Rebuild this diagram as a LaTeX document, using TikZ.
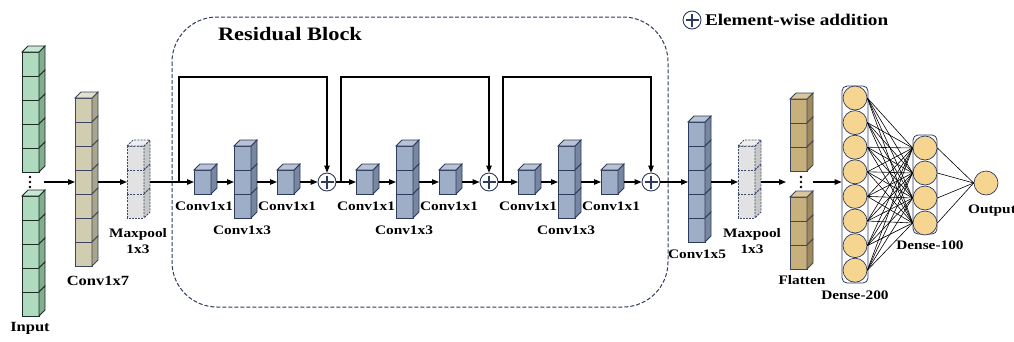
\documentclass[tikz,border=0pt]{standalone}
\usepackage{fontspec}
\newfontfamily\lbl[FakeStretch=1.18]{Liberation Serif}
\usetikzlibrary{arrows.meta,positioning}

\definecolor{navy}{HTML}{2E3B5C}
\definecolor{grF}{HTML}{AEDBBE}\definecolor{grT}{HTML}{C6E7D2}\definecolor{grS}{HTML}{80AE8F}\definecolor{grL}{HTML}{1F2B25}
\definecolor{tnF}{HTML}{D1CDB1}\definecolor{tnT}{HTML}{E3E0CC}\definecolor{tnS}{HTML}{A9A68A}\definecolor{tnL}{HTML}{3C4664}
\definecolor{blF}{HTML}{9EAEC6}\definecolor{blT}{HTML}{B8C4D6}\definecolor{blS}{HTML}{7787A1}\definecolor{blL}{HTML}{2E3A5C}
\definecolor{gyF}{HTML}{E2E2E2}\definecolor{gyT}{HTML}{EEEEEE}\definecolor{gyS}{HTML}{C8C8C8}\definecolor{gyL}{HTML}{3C4A6A}
\definecolor{brF}{HTML}{C8B07C}\definecolor{brT}{HTML}{DAC69A}\definecolor{brS}{HTML}{A18A5A}\definecolor{brL}{HTML}{3C4664}
\definecolor{nrF}{HTML}{F6D590}

% stack of cubes: name, x, y-centre, cells, colour set
\newcommand{\cubes}[5]{%
  \pgfmathsetmacro\ctop{#3-#4*12}
  \foreach \k in {1,...,#4}{
    \pgfmathsetmacro\cy{\ctop+(\k-1)*24}
    \draw[#5,fill=#5F] (#2,\cy) rectangle ++(17,24);
    \draw[#5,fill=#5S] (#2+17,\cy) -- ++(6,-6) -- ++(0,24) -- ++(-6,6) -- cycle;
  }
  \draw[#5,fill=#5T] (#2,\ctop) -- ++(6,-6) -- ++(17,0) -- ++(-6,6) -- cycle;
  \coordinate (#1-in) at (#2,#3);
  \coordinate (#1-out) at (#2+23,#3);
}

\tikzset{
  gr/.style={draw=grL,line width=0.8pt},
  tn/.style={draw=tnL,line width=0.8pt},
  bl/.style={draw=blL,line width=0.8pt},
  br/.style={draw=brL,line width=0.8pt},
  gy/.style={draw=gyL,line width=0.8pt,dash pattern=on 2pt off 1.2pt},
  lab/.style={font=\lbl\bfseries\fontsize{13}{16.5}\selectfont,align=center,inner sep=0},
  add/.style={circle,draw=navy,line width=0.9pt,fill=white,minimum size=18pt,inner sep=0,
    path picture={
      \draw[line width=1.5pt] ([yshift=-2.5pt]path picture bounding box.north) -- ([yshift=2.5pt]path picture bounding box.south);
      \draw[line width=1.5pt] ([xshift=2.5pt]path picture bounding box.west) -- ([xshift=-2.5pt]path picture bounding box.east);}},
  neuron/.style={circle,draw=navy,line width=0.7pt,fill=nrF,minimum size=24pt,inner sep=0},
  layer/.style={draw=navy,line width=0.8pt,rounded corners=5pt,fill=white},
  wire/.style={line width=0.6pt},
}

\begin{document}
\begin{tikzpicture}[x=1pt,y=-1pt,>={Triangle[length=7pt,width=5.5pt]},line width=1.1pt]
\useasboundingbox (0,0) rectangle (1014,341);

% residual block frame
\draw[navy,line width=1pt,dash pattern=on 4pt off 2pt,rounded corners=45pt] (172,17) rectangle (668,307);
\node[lab,font=\lbl\bfseries\fontsize{19}{21}\selectfont] (rbt) at (290,34) {Residual Block};

% legend
\node[add] (leg) at (692,20) {};
\node[lab,font=\lbl\bfseries\fontsize{16.3}{18}\selectfont,right=3pt of leg] (legt) {Element-wise addition};

% input
\cubes{inA}{22}{112}{5}{gr}
\cubes{inB}{22}{256}{5}{gr}
\foreach \t in {177,182,187} \fill (30,\t) circle (1.3);
\coordinate (in-out) at (44,182);
\node[lab,font=\lbl\bfseries\fontsize{14}{16}\selectfont] (inl) at (30,328) {Input};

% conv + pool
\cubes{c7}{75}{182}{7}{tn}
\node[lab,font=\lbl\bfseries\fontsize{14}{16}\selectfont] (c7l) at (98,281) {Conv1x7};
\cubes{mp1}{127}{182}{3}{gy}
\node[lab] (mp1l) at (138,241) {Maxpool\\1x3};
\draw[->] (in-out) -- (c7-in);
\draw[->] (c7-out) -- (mp1-in);

% residual units
\foreach \b [evaluate=\b as \ox using 162*\b] in {0,1,2}{
  \cubes{ca\b}{194+\ox}{182}{1}{bl}
  \cubes{cb\b}{234+\ox}{182}{3}{bl}
  \cubes{cc\b}{277+\ox}{182}{1}{bl}
  \node[add] (p\b) at (327+\ox,182) {};
  \coordinate (s\b) at (179+\ox,182);
  \node[lab] (la\b) at (204+\ox,206) {Conv1x1};
  \node[lab] (lb\b) at (242+\ox,230) {Conv1x3};
  \node[lab] (lc\b) at (287+\ox,206) {Conv1x1};
  \draw[->] (ca\b-out) -- (cb\b-in);
  \draw[->] (cb\b-out) -- (cc\b-in);
  \draw[->] (cc\b-out) -- (p\b);
  \draw[->] (s\b) -- ++(0,-105) -| (p\b);
}
\draw[->] (mp1-out) -- (ca0-in);
\draw[->] (p0) -- (ca1-in);
\draw[->] (p1) -- (ca2-in);

% conv + pool + flatten
\cubes{c5}{688}{182}{5}{bl}
\node[lab] (c5l) at (697,254) {Conv1x5};
\cubes{mp2}{738}{182}{3}{gy}
\node[lab] (mp2l) at (752,241) {Maxpool\\1x3};
\draw[->] (p2) -- (c5-in);
\draw[->] (c5-out) -- (mp2-in);
\cubes{flA}{790}{135}{3}{br}
\cubes{flB}{790}{233}{3}{br}
\foreach \t in {177,182,187} \fill (801,\t) circle (1.3);
\coordinate (fl-in) at (786,182);
\coordinate (fl-out) at (813,182);
\node[lab] (fll) at (802,280) {Flatten};
\draw[->] (mp2-out) -- (fl-in);

% dense layers
\node[layer,minimum width=26pt,minimum height=197pt] (d200) at (855,184.5) {};
\node[layer,minimum width=24pt,minimum height=99pt] (d100) at (925,184.5) {};
\foreach \i in {1,...,8} \node[neuron] (h\i) at (855,{98+24.6*(\i-1)}) {};
\foreach \j in {1,...,4} \node[neuron] (k\j) at (925,{148+25*(\j-1)}) {};
\node[neuron] (o) at (986,183) {};
\foreach \i in {1,...,8} \foreach \j in {1,...,4} \draw[wire] (h\i.east) -- (k\j.west);
\foreach \j in {1,...,4} \draw[wire] (k\j.east) -- (o.west);
\draw[->] (fl-out) -- (fl-out -| d200.west);
\node[lab] (d200l) at (855,295) {Dense-200};
\node[lab] (d100l) at (930,245) {Dense-100};
\node[lab] (ol) at (992,211) {Output};
\end{tikzpicture}
\end{document}
